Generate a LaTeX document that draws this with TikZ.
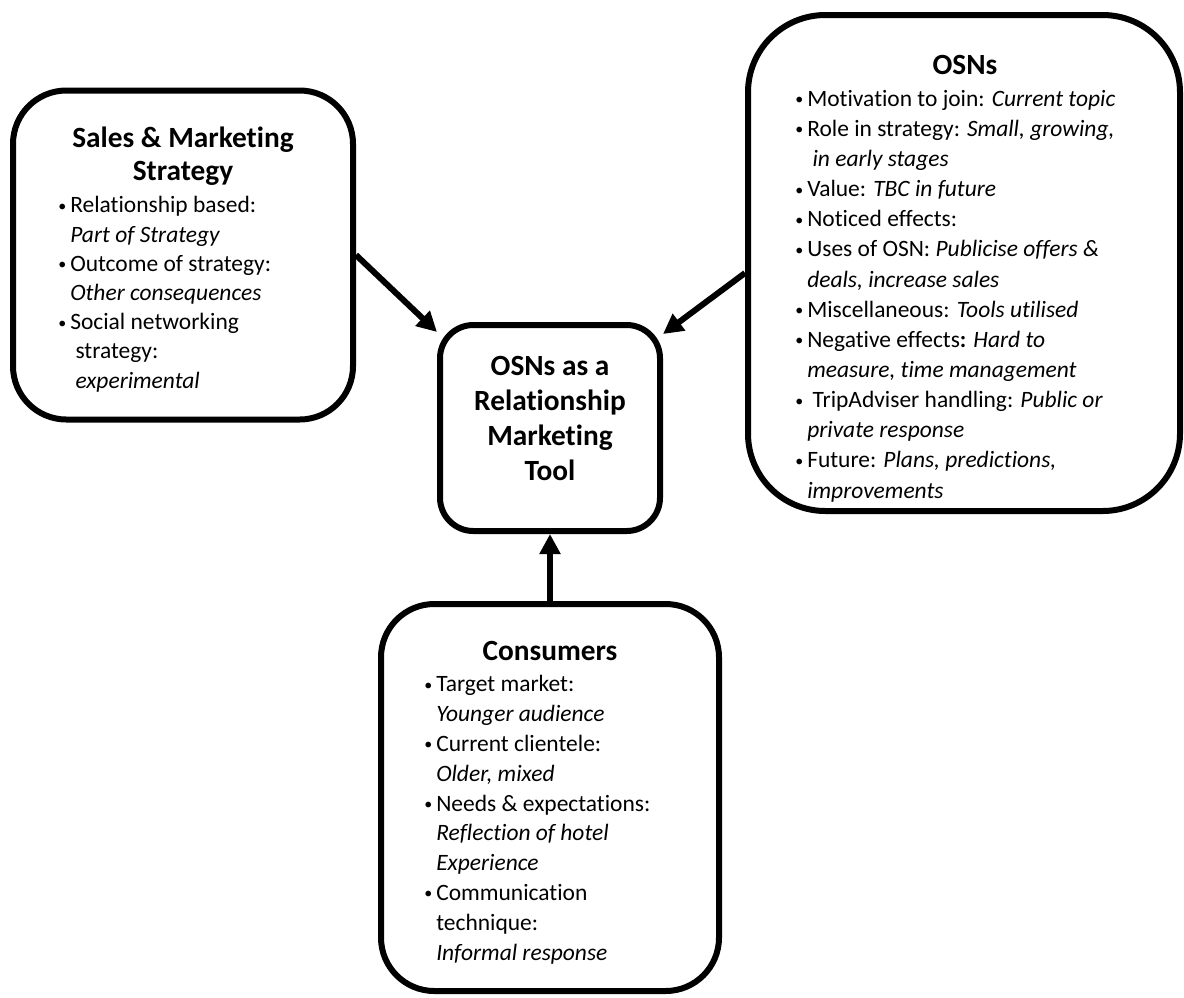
\documentclass[tikz,border=0pt]{standalone}
\usepackage{fontspec}
\setmainfont{Carlito}[Ligatures=NoCommon]
\usetikzlibrary{arrows.meta}
\newcommand\mybul{\makebox[9pt][l]{\raisebox{1.2pt}{\fontsize{12}{12}\selectfont\textbullet}}}
\newcommand\myind{\hspace*{9pt}}
\begin{document}
\begin{tikzpicture}[x=0.75pt,y=-0.75pt,
  box/.style={draw, line width=4.5pt, rectangle, rounded corners=#1},
  ttl/.style={inner sep=0pt, align=center, anchor=base,
    font=\fontsize{22}{#1}\selectfont\bfseries},
  lst/.style={inner sep=0pt, align=left, anchor=base west,
    font=\fontsize{17.6}{#1}\selectfont},
  arr/.style={line width=4.5pt, -{Triangle[length=15pt,width=15pt]}}]
\fill[white] (0,0) rectangle (1184,997);
\useasboundingbox (0,0) rectangle (1184,997);

% boxes
\node[box=40pt, minimum width=255pt, minimum height=246.75pt] (left) at (183,255) {};
\node[box=58pt, minimum width=324pt, minimum height=372pt] (right) at (964,263) {};
\node[box=25pt, minimum width=165pt, minimum height=154.5pt] (ctr) at (550,428) {};
\node[box=40pt, minimum width=253.5pt, minimum height=290.25pt] (bot) at (550,797.5) {};

% texts (anchor base = baseline of the last line)
\node[ttl=24.75pt] (lefttitle) at (183,180) {Sales \& Marketing\\Strategy};
\node[lst=21.9pt] (leftlist) at (58,388) {\mybul Relationship based:\\
\myind\textit{Part of Strategy}\\
\mybul Outcome of strategy:\\
\myind\textit{Other consequences}\\
\mybul Social networking\\
\myind\ strategy:\\
\myind\ \textit{experimental}};

\node[ttl=26.25pt] (ctrtitle) at (550,480) {OSNs as a\\Relationship\\Marketing\\Tool};

\node[ttl=24pt] (righttitle) at (965,74) {OSNs};
\node[lst=22.6pt] (rightlist) at (795,498) {\mybul Motivation to join: \textit{Current topic}\\
\mybul Role in strategy: \textit{Small, growing,}\\
\myind\ \textit{in early stages}\\
\mybul Value: \textit{TBC in future}\\
\mybul Noticed effects:\\
\mybul Uses of OSN: \textit{Publicise offers \&}\\
\myind\textit{deals, increase sales}\\
\mybul Miscellaneous: \textit{Tools utilised}\\
\mybul Negative effects\textbf{:} \textit{Hard to}\\
\myind\textit{measure, time management}\\
\mybul\ TripAdviser handling: \textit{Public or}\\
\myind\textit{private response}\\
\mybul Future: \textit{Plans, predictions,}\\
\myind\textit{improvements}};

\node[ttl=24pt] (bottitle) at (550,660) {Consumers};
\node[lst=22.35pt] (botlist) at (424,960) {\mybul Target market:\\
\myind\textit{Younger audience}\\
\mybul Current clientele:\\
\myind\textit{Older, mixed}\\
\mybul Needs \& expectations:\\
\myind\textit{Reflection of hotel}\\
\myind\textit{Experience}\\
\mybul Communication\\
\myind technique:\\
\myind\textit{Informal response}};

% arrows
\draw[arr] (left.east) -- ([shift={(0,10)}]ctr.north west);
\draw[arr] ([shift={(0,10)}]right.west) -- ([shift={(0,12)}]ctr.north east);
\draw[arr] (bot.north) -- (ctr.south);
\end{tikzpicture}
\end{document}
